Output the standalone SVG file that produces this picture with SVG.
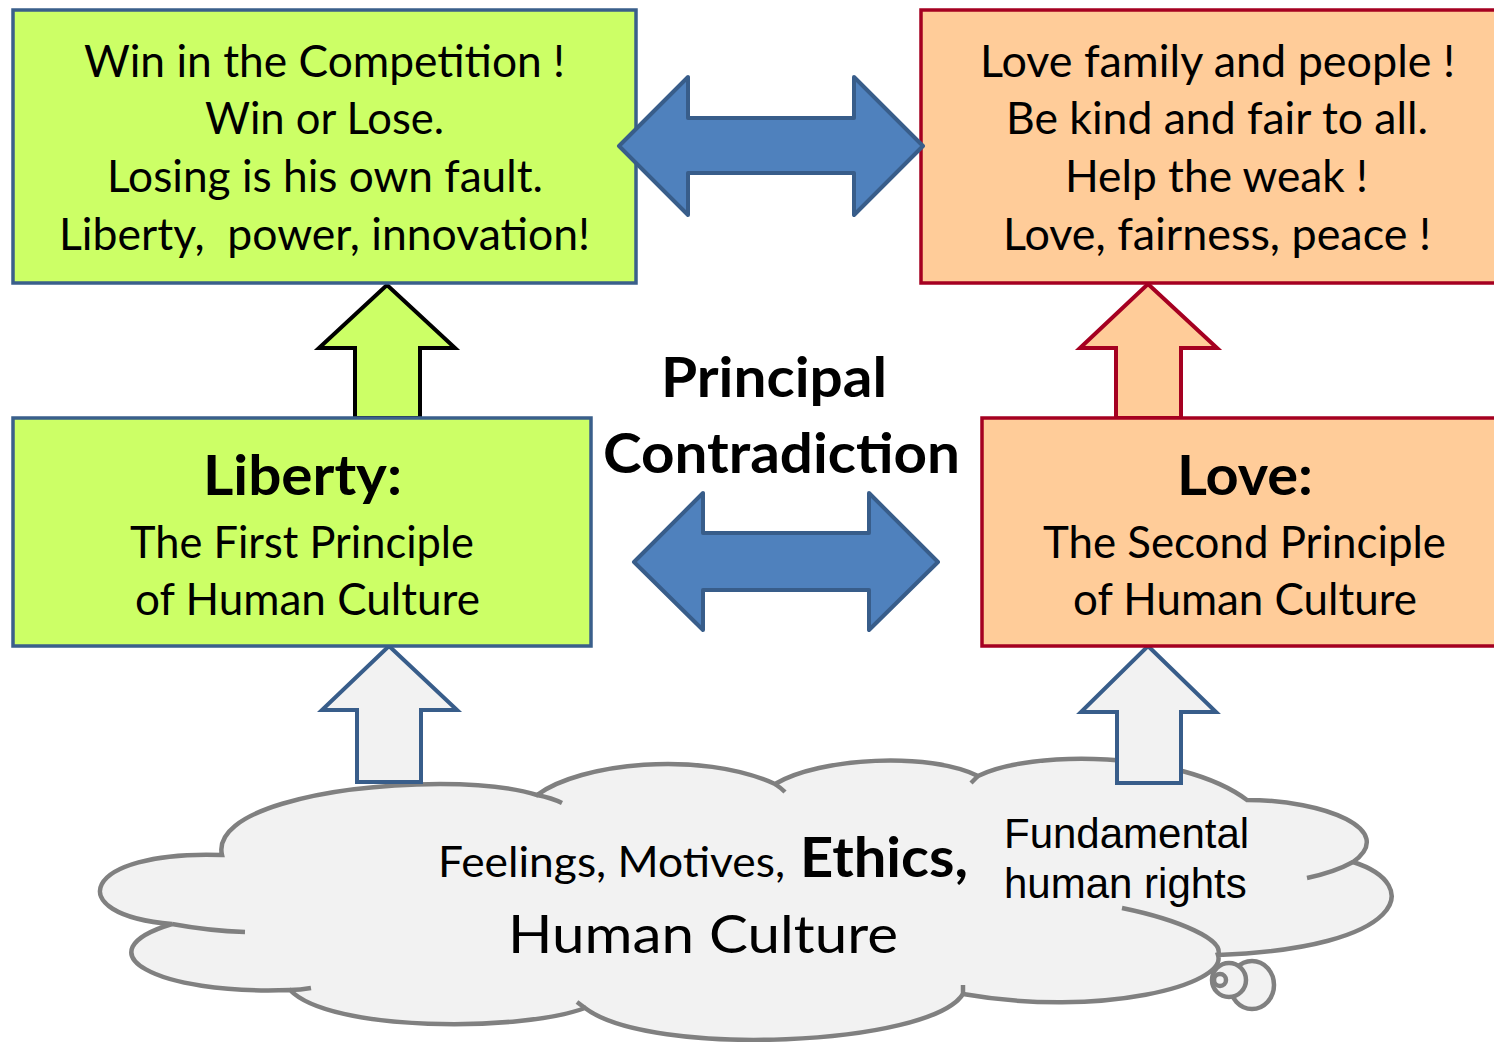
<svg xmlns="http://www.w3.org/2000/svg" width="1494" height="1042" viewBox="0 0 1494 1042">
<style>
.t{font-family:Lato,"Open Sans","Noto Sans",sans-serif;fill:#000}
.b{font-weight:bold}
.s48{font-size:44px}
.s56{font-size:56px}
.ar{font-family:"Liberation Sans",Arial,sans-serif;font-size:42px;fill:#000}
.gbox{fill:#CCFF66;stroke:#3A5F8B;stroke-width:3.5}
.rbox{fill:#FFCC99;stroke:#A50021;stroke-width:3.5}
.cl{fill:#F2F2F2;stroke:#808080;stroke-width:4.5}
.tick{fill:none;stroke:#808080;stroke-width:4.5}
.dbl{fill:#4F81BD;stroke:#385D8A;stroke-width:4;stroke-linejoin:round}
.up{stroke-width:4;stroke-linejoin:miter}
</style>

<g id="cloud">
<path class="cl" d="M 222 855 C 212 812, 320 785, 440 784 C 480 784, 515 788, 537 795 C 580 763, 700 750, 775 784 C 820 757, 930 752, 978 776 C 1030 750, 1180 750, 1247 800 C 1325 800, 1398 830, 1353 862 C 1425 885, 1405 948, 1218 955 C 1228 985, 1100 1018, 963 994 C 930 1046, 650 1058, 585 1008 C 520 1032, 330 1032, 290 990 C 155 995, 80 952, 172 924 C 60 915, 80 850, 222 855 Z"/>
<path class="tick" d="M 537 795 Q 552 798 562 803"/>
<path class="tick" d="M 172 924 Q 210 931 245 932"/>
<path class="tick" d="M 290 990 Q 300 990 311 988"/>
<path class="tick" d="M 775 784 Q 781 788 785 792"/>
<path class="tick" d="M 978 776 L 971 783"/>
<path class="tick" d="M 1353 862 Q 1335 872 1307 878"/>
<path class="tick" d="M 1122 908 C 1180 920, 1225 940, 1218 955"/>
<path class="tick" d="M 963 994 L 963 985"/>
<path class="tick" d="M 585 1008 L 577 1002"/>
<ellipse class="cl" cx="1252" cy="985" rx="22" ry="24"/>
<ellipse class="cl" cx="1229" cy="980" rx="17" ry="17"/>
<ellipse class="cl" cx="1220" cy="980" rx="6" ry="6"/>
<text class="t" x="438" y="877" font-size="42" textLength="347" lengthAdjust="spacingAndGlyphs">Feelings, Motives,</text>
<text class="t b" x="800" y="877" font-size="55" textLength="168" lengthAdjust="spacingAndGlyphs">Ethics,</text>
<text class="t" x="508" y="953" font-size="53" textLength="390" lengthAdjust="spacingAndGlyphs">Human Culture</text>
<text class="ar" x="1004" y="848">Fundamental</text>
<text class="ar" x="1004" y="898">human rights</text>
</g>

<g id="connectors">
<path class="up" fill="#CCFF66" stroke="#000" d="M 387 285 L 455 348 L 420 348 L 420 418 L 355 418 L 355 348 L 319 348 Z"/>
<path class="up" fill="#FFCC99" stroke="#A50021" d="M 1148 284 L 1217 348 L 1181 348 L 1181 418 L 1116 418 L 1116 348 L 1080 348 Z"/>
<path class="up" fill="#F2F2F2" stroke="#385D8A" d="M 389 646 L 457 710 L 421 710 L 421 782 L 357 782 L 357 710 L 322 710 Z"/>
<path class="up" fill="#F2F2F2" stroke="#385D8A" d="M 1148 646 L 1216 712 L 1181 712 L 1181 783 L 1117 783 L 1117 712 L 1081 712 Z"/>
</g>

<g id="box-top-left">
<rect class="gbox" x="13" y="10" width="623" height="273"/>
<text class="t s48" x="84" y="77" textLength="481" lengthAdjust="spacingAndGlyphs">Win in the Competition !</text>
<text class="t s48" x="205" y="134" textLength="239" lengthAdjust="spacingAndGlyphs">Win or Lose.</text>
<text class="t s48" x="107" y="192" textLength="436" lengthAdjust="spacingAndGlyphs">Losing is his own fault.</text>
<text class="t s48" x="59" y="250" textLength="531" lengthAdjust="spacingAndGlyphs" xml:space="preserve">Liberty,  power, innovation!</text>
</g>

<g id="box-top-right">
<rect class="rbox" x="921" y="10" width="590" height="273"/>
<text class="t s48" x="980" y="77" textLength="475" lengthAdjust="spacingAndGlyphs">Love family and people !</text>
<text class="t s48" x="1006" y="134" textLength="422" lengthAdjust="spacingAndGlyphs">Be kind and fair to all.</text>
<text class="t s48" x="1065" y="192" textLength="303" lengthAdjust="spacingAndGlyphs">Help the weak !</text>
<text class="t s48" x="1003" y="250" textLength="428" lengthAdjust="spacingAndGlyphs">Love, fairness, peace !</text>
</g>

<g id="box-mid-left">
<rect class="gbox" x="13" y="418" width="578" height="228"/>
<text class="t b s56" x="203" y="495" textLength="199" lengthAdjust="spacingAndGlyphs">Liberty:</text>
<text class="t s48" x="130" y="558" textLength="344" lengthAdjust="spacingAndGlyphs">The First Principle</text>
<text class="t s48" x="135" y="615" textLength="345" lengthAdjust="spacingAndGlyphs">of Human Culture</text>
</g>

<g id="box-mid-right">
<rect class="rbox" x="982" y="418" width="530" height="228"/>
<text class="t b s56" x="1177" y="495" textLength="136" lengthAdjust="spacingAndGlyphs">Love:</text>
<text class="t s48" x="1043" y="558" textLength="403" lengthAdjust="spacingAndGlyphs">The Second Principle</text>
<text class="t s48" x="1073" y="615" textLength="344" lengthAdjust="spacingAndGlyphs">of Human Culture</text>
</g>

<g id="label-contradiction">
<text class="t b s56" x="661" y="397" textLength="226" lengthAdjust="spacingAndGlyphs">Principal</text>
<text class="t b s56" x="603" y="473" textLength="357" lengthAdjust="spacingAndGlyphs">Contradiction</text>
</g>

<g id="double-arrows">
<path class="dbl" d="M 619 146 L 688 77 L 688 118 L 854 118 L 854 77 L 923 146 L 854 215 L 854 173 L 688 173 L 688 215 Z"/>
<path class="dbl" d="M 634 562 L 703 493 L 703 533 L 869 533 L 869 493 L 938 562 L 869 630 L 869 590 L 703 590 L 703 630 Z"/>
</g>
</svg>
